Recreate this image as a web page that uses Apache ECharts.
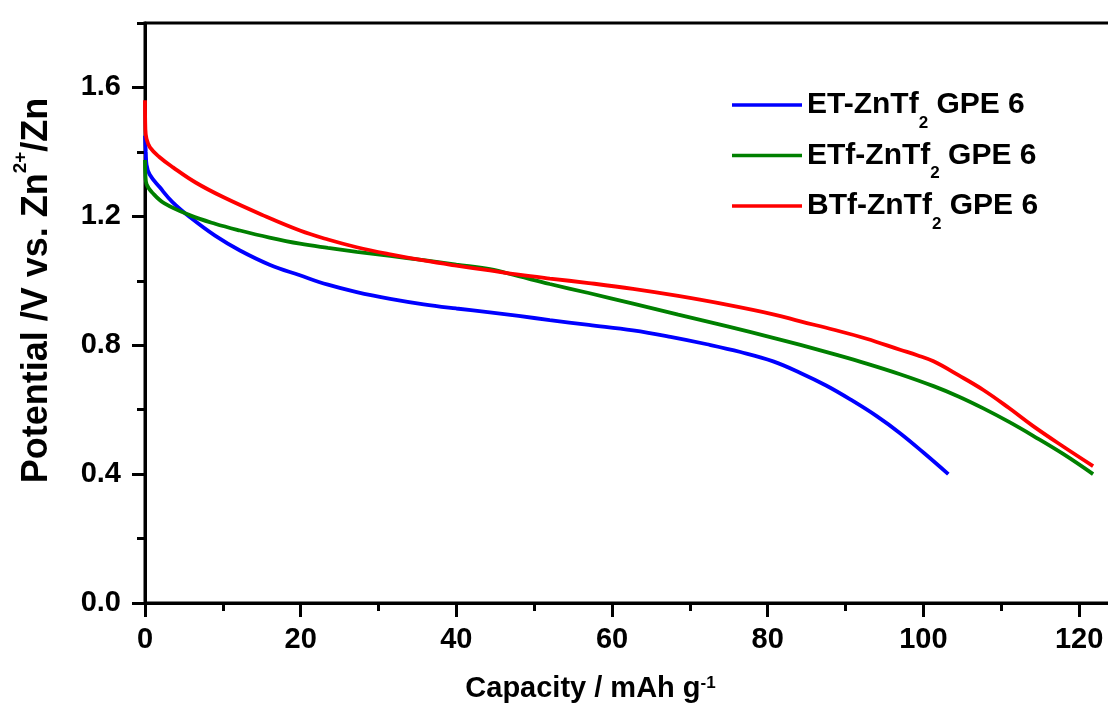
<!DOCTYPE html>
<html>
<head>
<meta charset="utf-8">
<script src="https://cdn.jsdelivr.net/npm/echarts@6.0.0/dist/echarts.min.js"></script>
<style>
  html, body { margin: 0; padding: 0; background: #fff; }
  #chart { width: 1108px; height: 708px; }
</style>
</head>
<body>
<div id="chart"></div>
<script>
// discharge curves, [capacity mAh/g, potential V]
const etData = [
  [0, 1.45], [0.1, 1.40], [0.2, 1.36], [0.6, 1.33], [1.9, 1.29], [3.5, 1.245],
  [5.8, 1.197], [9, 1.14], [12.2, 1.094], [16, 1.05], [19.9, 1.017], [23.5, 0.988],
  [27.2, 0.965], [31.5, 0.944], [35.8, 0.927], [40, 0.914], [44.3, 0.902], [48, 0.891],
  [52, 0.878], [57, 0.863], [62.7, 0.846], [67.5, 0.826], [72.2, 0.803], [76.5, 0.779],
  [80.7, 0.75], [84.2, 0.714], [87.5, 0.675], [90.6, 0.632], [94, 0.58], [97, 0.527],
  [100, 0.467], [103.2, 0.40]
]
const etfData = [
  [0, 1.375], [0.05, 1.33], [0.2, 1.30], [1.07, 1.27], [2.5, 1.24], [5.8, 1.203],
  [9, 1.177], [12.2, 1.156], [16, 1.134], [19.9, 1.115], [23.5, 1.102], [27.2, 1.09],
  [31.5, 1.077], [35.8, 1.064], [40, 1.05], [44.3, 1.036], [48, 1.014], [52, 0.99],
  [57, 0.962], [62.7, 0.929], [68.5, 0.895], [74.7, 0.859], [80.7, 0.823], [84.2, 0.801],
  [88.4, 0.773], [92.7, 0.743], [97, 0.71], [101.3, 0.673], [104.5, 0.641], [107.7, 0.604],
  [111, 0.562], [114.1, 0.519], [118, 0.462], [121.8, 0.40]
]
const btfData = [
  [0, 1.56], [0.05, 1.47], [0.2, 1.44], [0.64, 1.414], [1.8, 1.385], [3.6, 1.352],
  [6.5, 1.305], [10.1, 1.259], [15, 1.205], [19.9, 1.156], [23.5, 1.128], [27.2, 1.104],
  [31.5, 1.082], [35.8, 1.063], [40, 1.047], [44.3, 1.032], [48, 1.019], [52, 1.007],
  [57, 0.993], [62.7, 0.975], [68.5, 0.953], [74.7, 0.926], [80.7, 0.896], [84.2, 0.874],
  [88.5, 0.848], [92.7, 0.82], [97, 0.786], [99.2, 0.769], [101.3, 0.75], [104.5, 0.707],
  [107.7, 0.661], [111, 0.605], [114.1, 0.549], [118, 0.485], [121.8, 0.425]
]

const seriesNames = ['ET-ZnTf2 GPE 6', 'ETf-ZnTf2 GPE 6', 'BTf-ZnTf2 GPE 6']
const legendLabels = {
  'ET-ZnTf2 GPE 6': '{n|ET-ZnTf}{s|2}{n| GPE 6}',
  'ETf-ZnTf2 GPE 6': '{n|ETf-ZnTf}{s|2}{n| GPE 6}',
  'BTf-ZnTf2 GPE 6': '{n|BTf-ZnTf}{s|2}{n| GPE 6}'
}

const xMajorTicks = [0, 20, 40, 60, 80, 100, 120]
const xMinorTicks = [10, 30, 50, 70, 90, 110]
const yMajorTicks = [0, 0.4, 0.8, 1.2, 1.6]
const yMinorTicks = [0.2, 0.6, 1.0, 1.4, 1.8]

const font = 'Liberation Sans, Arial, sans-serif'
const colors = ['#0000ff', '#008000', '#ff0000']

const chart = echarts.init(document.getElementById('chart'))

const minorAxis = {
  axisLine: { show: false },
  axisLabel: { show: false },
  splitLine: { show: false },
  axisTick: { inside: false, length: 8, lineStyle: { width: 3, color: '#000' } }
}

chart.setOption({
  animation: false,
  backgroundColor: '#fff',
  color: colors,
  grid: {
    left: 145, top: 23, width: 973, height: 580,
    show: true, borderColor: '#000', borderWidth: 3,
    outerBoundsMode: 'none'
  },
  legend: {
    data: seriesNames.map(n => ({ name: n, icon: 'rect' })),
    orient: 'vertical',
    left: 727,
    top: 85,
    itemWidth: 70,
    itemHeight: 3.5,
    itemGap: 9,
    formatter: name => legendLabels[name],
    textStyle: {
      rich: {
        n: { fontFamily: font, fontWeight: 'bold', fontSize: 30, color: '#000', verticalAlign: 'middle', lineHeight: 30 },
        s: { fontFamily: font, fontWeight: 'bold', fontSize: 17, color: '#000', verticalAlign: 'top', lineHeight: 16, padding: [24.5, 0, 0, 0] }
      }
    }
  },
  xAxis: [
    {
      type: 'value', position: 'bottom', min: 0, max: 125,
      name: '{n|Capacity / mAh g}{s|-1}',
      nameLocation: 'middle', nameGap: 72, nameMoveOverlap: false,
      nameTextStyle: {
        padding: [0, 82, 0, 0],
        rich: {
          n: { fontFamily: font, fontWeight: 'bold', fontSize: 29, color: '#000', lineHeight: 28 },
          s: { fontFamily: font, fontWeight: 'bold', fontSize: 17, color: '#000', verticalAlign: 'top', lineHeight: 16 }
        }
      },
      axisLine: { lineStyle: { color: '#000', width: 3 } },
      axisTick: { customValues: xMajorTicks, inside: false, length: 14, lineStyle: { width: 3, color: '#000' } },
      axisLabel: {
        customValues: xMajorTicks, margin: 22,
        fontFamily: font, fontWeight: 'bold', fontSize: 29, color: '#000'
      },
      splitLine: { show: false }
    },
    Object.assign({ type: 'value', position: 'bottom', min: 0, max: 125 }, minorAxis, {
      axisTick: Object.assign({}, minorAxis.axisTick, { customValues: xMinorTicks })
    })
  ],
  yAxis: [
    {
      type: 'value', position: 'left', min: 0, max: 1.8,
      name: '{n|Potential /V vs. Zn}{s|2+}{n|/Zn}',
      nameLocation: 'middle', nameGap: 81, nameRotate: 90, nameMoveOverlap: false,
      nameTextStyle: {
        padding: [0, 0, 0, 45],
        rich: {
          n: { fontFamily: font, fontWeight: 'bold', fontSize: 36, color: '#000', lineHeight: 53 },
          s: { fontFamily: font, fontWeight: 'bold', fontSize: 19, color: '#000', verticalAlign: 'top', lineHeight: 16 }
        }
      },
      axisLine: { lineStyle: { color: '#000', width: 3 } },
      axisTick: { customValues: yMajorTicks, inside: false, length: 13, lineStyle: { width: 3, color: '#000' } },
      axisLabel: {
        customValues: yMajorTicks, margin: 24,
        formatter: v => v.toFixed(1),
        fontFamily: font, fontWeight: 'bold', fontSize: 29, color: '#000'
      },
      splitLine: { show: false }
    },
    Object.assign({ type: 'value', position: 'left', min: 0, max: 1.8 }, minorAxis, {
      axisTick: Object.assign({}, minorAxis.axisTick, { customValues: yMinorTicks })
    })
  ],
  series: [
    { name: seriesNames[0], type: 'line', data: etData },
    { name: seriesNames[1], type: 'line', data: etfData },
    { name: seriesNames[2], type: 'line', data: btfData }
  ].map(s => Object.assign(s, {
    symbol: 'none',
    smooth: 0.4,
    lineStyle: { width: 3.8 }
  }))
})
</script>
</body>
</html>
